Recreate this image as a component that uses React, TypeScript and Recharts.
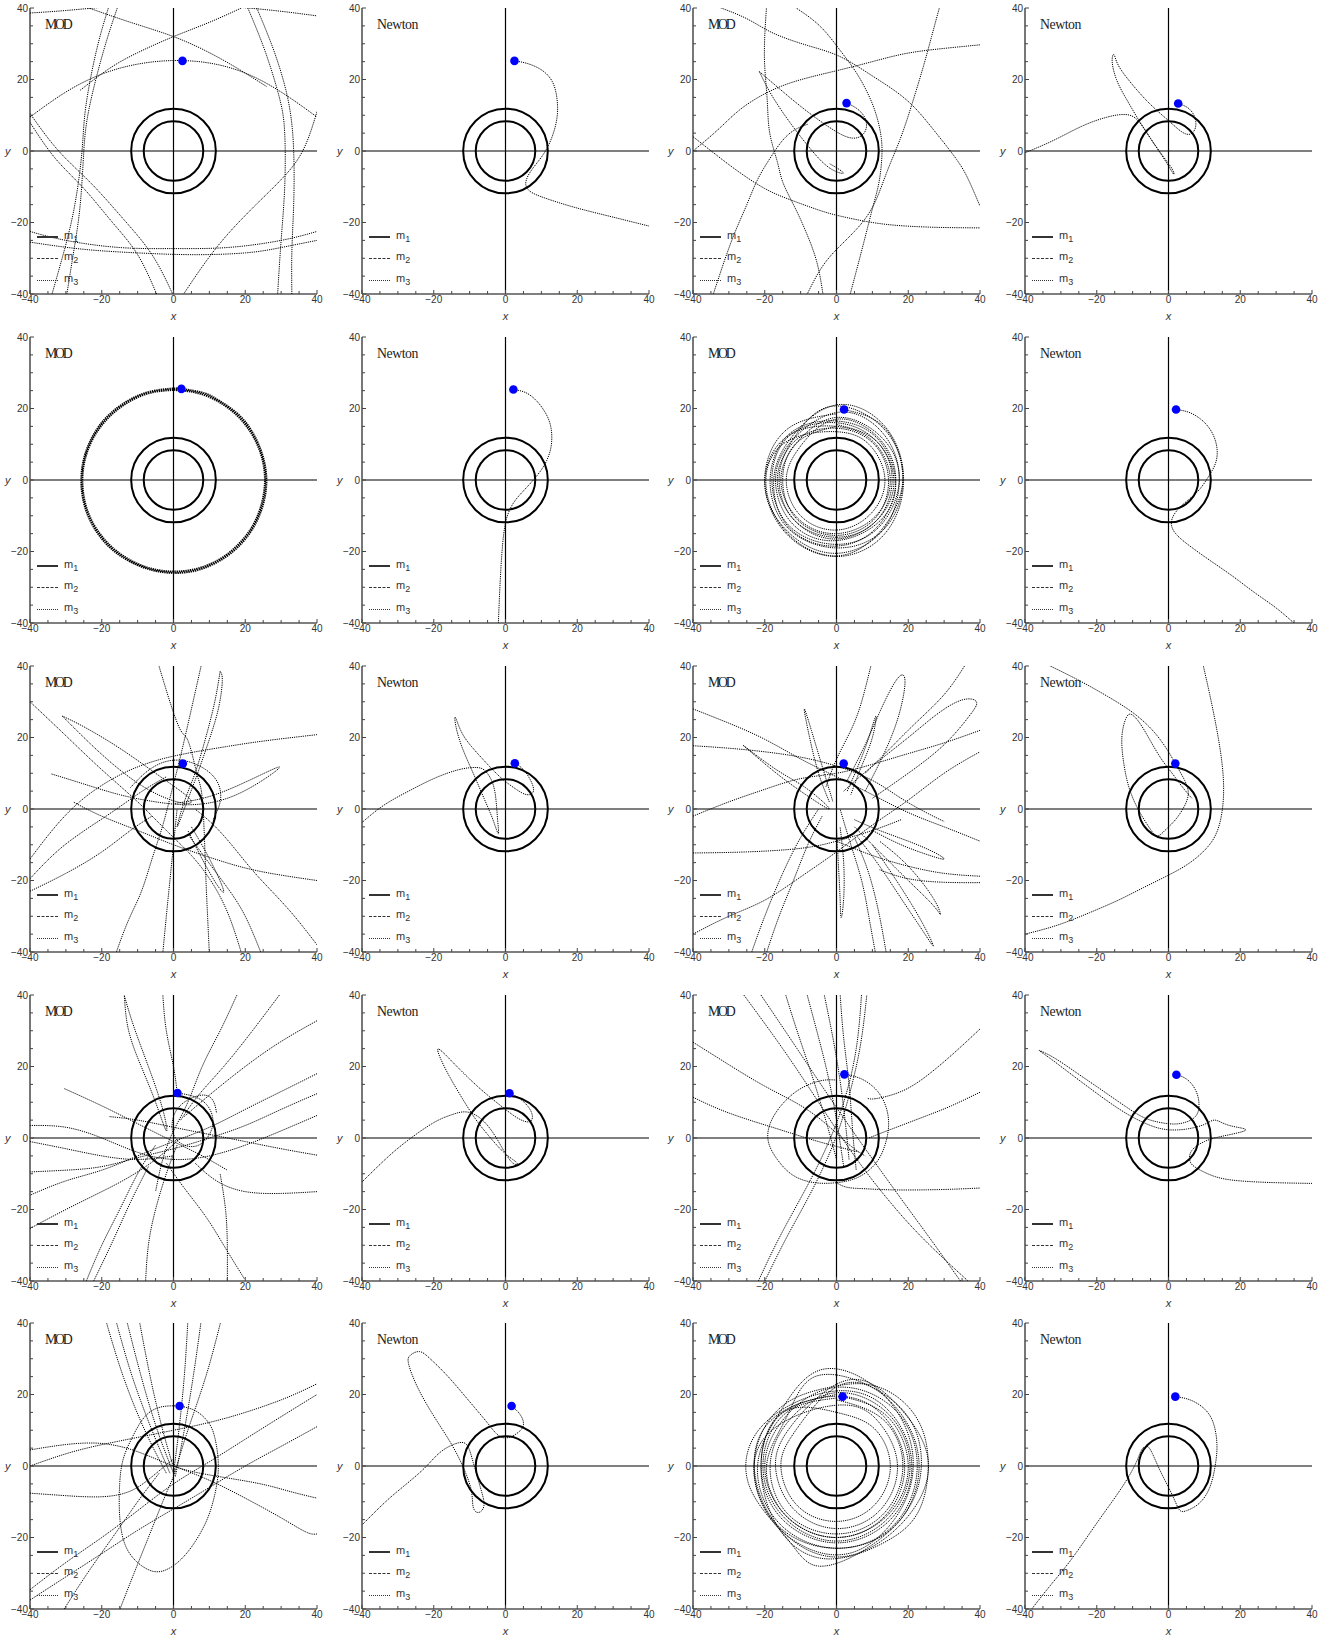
import React from "react";
import { ScatterChart, Scatter, XAxis, YAxis, ReferenceLine, ReferenceDot } from "recharts";

type Pt = [number, number];

// axis ticks (every 5 units, labels every 20)
const TICKS = [-40, -35, -30, -25, -20, -15, -10, -5, 0, 5, 10, 15, 20, 25, 30, 35, 40];
const LABELLED = [-40, -20, 0, 20, 40];

// orbits of the binary (m1 inner, m2 outer), radius in data units
const M1_RADIUS = 8.3;
const M2_RADIUS = 11.8;

// starting position of m3 per panel
const dot11: Pt = [2.5, 25.2];
const dot12: Pt = [2.5, 25.2];
const dot13: Pt = [2.8, 13.4];
const dot14: Pt = [2.7, 13.3];
const dot21: Pt = [2.2, 25.5];
const dot22: Pt = [2.2, 25.3];
const dot23: Pt = [2.1, 19.7];
const dot24: Pt = [2.1, 19.7];
const dot31: Pt = [2.6, 12.7];
const dot32: Pt = [2.6, 12.8];
const dot33: Pt = [2.0, 12.7];
const dot34: Pt = [1.9, 12.7];
const dot41: Pt = [1.1, 12.6];
const dot42: Pt = [1.1, 12.5];
const dot43: Pt = [2.2, 17.8];
const dot44: Pt = [2.2, 17.7];
const dot51: Pt = [1.7, 16.8];
const dot52: Pt = [1.7, 16.8];
const dot53: Pt = [1.7, 19.4];
const dot54: Pt = [1.9, 19.4];

// m3 trajectories
const path11: Pt[][] = [
  [[-40, 9.5], [-30, 16.5], [-20, 21.5], [-10, 24.3], [0, 25.3], [10, 24.6], [20, 21.8], [30, 16.5], [40, 9.5]],
  [[-40, -22.5], [-30, -25], [-15, -27], [0, -27.3], [15, -27], [30, -25], [40, -22.5]],
  [[-40, -25.5], [-25, -27.5], [-10, -28.5], [5, -29], [20, -28.5], [30, -27], [40, -25]],
  [[-18, 40.5], [-21.5, 28], [-24.5, 12], [-25.5, 0], [-27.5, -15], [-30.5, -28], [-34, -40.5]],
  [[-15.5, 40.5], [-19.5, 28], [-23.5, 12], [-25, 0], [-26, -15], [-27.8, -28], [-29.8, -40.5]],
  [[-40, 8], [-33, -2], [-25, -10.5], [-17, -20], [-10, -29], [-4.5, -40.5]],
  [[-40, 10.5], [-32, 0], [-23, -9], [-14, -19], [-6, -29], [0, -40.5]],
  [[20.5, 40.5], [25.5, 28], [29.5, 15], [31, 5], [31, -10], [30, -25], [29, -40.5]],
  [[23, 40.5], [28, 28], [32, 14], [33.5, 0], [33.5, -15], [33, -28], [33, -40.5]],
  [[40, 11], [36, 0], [30, -8], [22, -16], [12, -27], [2.5, -40.5]],
  [[-25, 40.5], [-12, 36], [0, 32], [10, 27.5], [18, 23], [26, 18]],
  [[20, 40.5], [10, 36], [0, 32], [-10, 27.5], [-18, 23], [-26, 17]],
  [[-40, 38.6], [-30, 39.3], [-20, 40.2], [-15, 40.5]],
  [[15, 40.5], [28, 39.3], [40, 37.8]],
];
const path12: Pt[][] = [
  [[2.5, 25.2], [6, 24.5], [10, 22.7], [13, 19.5], [14.3, 15], [14.4, 9.7], [13, 4], [10.5, -1], [7.5, -5], [5.7, -8.5], [6.5, -11], [10, -12.8], [16, -14.8], [22, -16.5], [30, -18.5], [40, -21]],
];
const path13: Pt[][] = [
  [[-40, 0], [-33, 6], [-27, 11.5], [-20, 16], [-13, 19], [-6, 21], [1, 22.7], [10, 25], [19.5, 27.3], [30, 28.7], [40, 29.7]],
  [[-40, 4], [-33, -1.5], [-27, -6], [-20, -10.5], [-13, -13.6], [-5, -16.5], [1, -18.2], [10, -20], [19.5, -21], [30, -21.4], [40, -21.5]],
  [[-19.5, 40.5], [-20, 32], [-20, 23.6], [-19.3, 14], [-18.6, 5], [-16.5, -3], [-14.9, -8.9], [-11.5, -16], [-8.4, -22.9], [-5.5, -31], [-3.7, -40.5]],
  [[-33.5, 40.5], [-25, 37], [-17.7, 33], [-8, 29.5], [1, 26.4], [10, 21], [19.5, 14.3], [27, 6], [33.5, -2.4], [37, -8.5], [40, -15.4]],
  [[-12, 40.5], [-7, 37], [-2.8, 33], [1.5, 27.5], [5.6, 21.8], [9, 15.5], [11.2, 9.7], [12.5, 3.5], [12.6, -2.4], [11.8, -9], [10.2, -15.4], [7.5, -26], [3.7, -40.5]],
  [[28.8, 40.5], [26.5, 32], [24.2, 23.6], [21, 13], [17.7, 3.2], [14, -6], [10.2, -15.4], [5, -22.5], [-0.9, -28.5], [-5, -34], [-8.4, -40.5]],
  [[-34.5, -40.5], [-31, -30], [-28, -22], [-25, -15], [-22, -8], [-18.5, -2], [-15, 3], [-11.5, 6], [-8, 7.5]],
  [[2.8, 13.4], [5.5, 12], [7.8, 9.5], [8.3, 6.5], [7, 4.3], [4.5, 3.6], [1, 4.8], [-4, 8], [-10, 12.5], [-16, 17.5], [-21.5, 22.2]],
  [[-21.5, 22.2], [-18, 15.5], [-13, 8], [-8, 1.5], [-3.5, -3.5], [0, -5.8], [1.9, -6.2], [0.5, -5], [-2, -3.5]],
];
const path14: Pt[][] = [
  [[2.7, 13.3], [5.5, 12], [7.3, 9.5], [7.5, 6.5], [6, 4.7], [3.5, 5.5], [0, 8.5], [-5, 13], [-10, 18.5], [-14, 24], [-15.2, 27], [-15.7, 25], [-14.5, 20], [-12, 15], [-8.5, 9], [-5, 3.5], [-1.5, -1.5], [1, -5], [1.5, -6.5], [0.5, -5], [-2, -1], [-5, 3.5], [-8.5, 8.5], [-12, 10.2], [-17, 9.5], [-24, 7], [-32, 3], [-40, -0.5]],
];
const path21: Pt[][] = [
  [[2.2, 25.5], [8.5, 24.3], [13, 22], [18.2, 18.2], [22.3, 12.8], [24.9, 6.6], [25.9, 0], [25, -6.7], [22.4, -13], [18.3, -18.4], [13, -22.5], [6.7, -25.2], [0, -26], [-6.7, -25], [-13, -22.3], [-18.3, -18.3], [-22.4, -12.9], [-24.9, -6.7], [-25.7, 0], [-24.8, 6.6], [-22.2, 12.8], [-18.1, 18.1], [-12.8, 22.1], [-6.6, 24.7], [0, 25.6], [2.2, 25.5]],
  [[0, 25.2], [6.5, 24.4], [12.6, 21.9], [17.9, 17.9], [22, 12.6], [24.6, 6.5], [25.5, 0], [24.6, -6.6], [22.1, -12.8], [18, -18.1], [12.8, -22.2], [6.6, -24.8], [0, -25.6], [-6.6, -24.7], [-12.8, -22], [-18, -18], [-22.1, -12.7], [-24.6, -6.6], [-25.4, 0], [-24.5, 6.5], [-21.9, 12.6], [-17.8, 17.8], [-12.6, 21.8], [-6.5, 24.4], [0, 25.2]],
];
const path22: Pt[][] = [
  [[2.2, 25.3], [5.5, 24.5], [8.5, 22.3], [11, 19], [12.6, 15], [12.8, 10], [11.5, 5.5], [9, 1.5], [5.5, -2.5], [2.5, -6], [0.7, -9.5], [-0.2, -13], [-0.8, -18], [-1.3, -25], [-1.7, -33], [-2, -40.5]],
];
const path23: Pt[][] = [
  [[2.1, 19.7], [13.5, 14.5], [18.5, 0], [13, -14], [0, -19], [-13.5, -13.5], [-18.5, 0], [-13, 13],
   [0, 16.5], [11.5, 11.5], [16.5, -1], [11.5, -12], [-1, -17], [-12.5, -12], [-17, 0], [-12, 11.5],
   [1, 19], [13, 13], [17.5, 0], [12.5, -14.5], [-1, -20.5], [-14, -14], [-20, -1], [-14, 12],
   [0, 15], [10.5, 10.5], [15, 0], [10.5, -10.5], [-0.5, -15], [-11, -10.5], [-15.5, 0], [-11, 10.5],
   [0, 17.5], [12.5, 12], [17.5, 0], [12, -13], [0, -18], [-13, -13], [-18, 0], [-13, 12.5],
   [0, 16], [11, 11], [16, 0], [11.5, -11], [0, -16.5], [-11.5, -11.5], [-16.5, 0], [-12, 11.5],
   [-2, 20.5], [12, 15.5], [18.5, 2], [14, -12], [2, -21], [-12, -16.5], [-19.5, -3], [-15, 10],
   [0, 13.5], [9.5, 9.5], [13.5, 0], [9.5, -9.5], [0, -14], [-10, -10], [-14, 0], [-10, 9.5],
   [0, 17], [12, 11.5], [16.5, -1], [11, -13.5], [-1, -18.5], [-13.5, -13], [-17.5, 0], [-12.5, 12],
   [0, 21], [13.5, 15], [18.7, 0], [13.5, -15], [0, -21.4], [-14, -15], [-20, 0], [-14, 14], [0, 18.5]],
  [[0, 15.5], [11, 11], [15.5, 0], [11, -11.5], [0, -16], [-11.5, -11.5], [-16, 0], [-11.5, 11],
   [0, 14.5], [10.5, 10], [14.5, -0.5], [10.5, -11], [0, -15.5], [-11, -11], [-15, 0], [-11, 10.5], [0, 15]],
];
const path24: Pt[][] = [
  [[2.1, 19.7], [5.5, 19], [9, 17], [12, 13.5], [13.5, 9], [13.2, 5], [11.5, 1.5], [8.5, -2.8], [5, -6], [2, -9], [0.8, -12], [2, -15], [6, -18.5], [12, -22.8], [18, -27], [24, -31.5], [30, -35.8], [35.5, -40.5]],
];
const path31: Pt[][] = [
  [[-40, 30], [-30, 20.5], [-20, 11], [-10, 2], [-2, -6], [5, -13], [11, -21], [15.5, -30], [19, -40.5]],
  [[-31, 26], [-25, 23], [-15, 17], [-5, 10], [2, 5], [5, 2], [1, 2], [-8, 6], [-18, 13.5], [-26, 21], [-31, 26]],
  [[-34, 9.8], [-25, 7], [-15, 4], [-5, 2], [5, 1.2], [15, 3], [24, 7.5], [29.5, 11.5], [27, 10.8], [20, 7.5], [10, 3.5], [0, 1.5]],
  [[-40, -14], [-33, -5], [-25, 3], [-15, 9.5], [-5, 13.5], [5, 15.8], [15, 17.5], [25, 19], [40, 20.8]],
  [[-40, -19.5], [-30.5, -10.2], [-18.5, -1.8], [-9, 4.8], [-2, 9]],
  [[-4.2, 40.5], [-1, 30], [2, 22], [4.2, 18.7], [6.5, 10], [7.8, 4.8], [8.5, -5], [9, -18.6], [9.5, -30], [10, -40.5]],
  [[7.8, 40.5], [5, 28], [1.8, 14.1], [-0.5, 5], [-3, -4.6], [-6, -14], [-9, -23.2], [-12.5, -31], [-16.1, -40.5]],
  [[13, 38.5], [11.5, 30], [9, 20], [6, 10], [3, 2], [1, -5], [3, 0], [6, 8], [9.5, 18], [12.5, 28], [13.6, 36], [13, 38.5]],
  [[-3, -40.5], [-2, -30], [-1, -20], [0, -10], [1, 0]],
  [[24.5, -40.5], [20, -30], [15, -22], [9, -13.9], [4, -7]],
  [[40, -38], [32, -28], [23.3, -18.6], [17, -11], [11.3, -4.6], [6, 0]],
  [[5, -5], [9, -12], [12.5, -19], [14, -23.2], [12, -21], [8, -14], [4, -6]],
  [[40, -20], [30, -18.5], [20, -16.5], [10, -13.5], [0, -10], [-10, -6], [-20, -2], [-28, 2]],
  [[-40, -23], [-30, -18], [-20, -12], [-12, -6], [-6, -2]],
  [[-12, 6], [-8, 10], [-3, 13], [3, 13.5], [9, 11], [12.5, 7], [13, 2], [11, -3]],
];
const path32: Pt[][] = [
  [[2.6, 12.9], [5, 11], [7, 8], [7.8, 5], [6, 4], [3, 5.5], [-1, 8.5], [-5, 12.5], [-9.5, 17.5], [-12.5, 22], [-14, 25.7], [-13.8, 23], [-12, 17], [-9, 10], [-6, 3], [-3.5, -3], [-2, -6.9], [-2.2, -3], [-2.6, 2], [-3.5, 7], [-5.5, 10.5], [-8, 11.6], [-13, 11], [-20, 8.5], [-27, 5], [-34, 1], [-40, -3.8]],
];
const path33: Pt[][] = [
  [[-40, 28], [-30, 24], [-20, 19.5], [-10, 14], [0, 9], [10, 4], [20, -1], [30, -5], [40, -9]],
  [[-40, 17.7], [-30, 17], [-20, 16], [-10, 14.5], [0, 12], [10, 8], [18, 3], [25, -1], [30, -3.5]],
  [[-40, -2], [-30, 2], [-20, 5.5], [-10, 8.5], [0, 10], [10, 12.5], [20, 15.5], [30, 18.5], [40, 22]],
  [[-40, -12.3], [-25, -12], [-10, -11], [0, -9], [10, -6], [18, -3]],
  [[-40, -35], [-30, -30], [-20, -25.5], [-10, -19], [0, -12], [10, -4.5], [20, 2.5], [30, 10], [40, 16]],
  [[2, 5], [10, 12], [20, 20], [28, 26.5], [35, 30.5], [39, 30], [37, 26], [30, 18], [20, 10], [10, 3]],
  [[3, 8], [8, 18], [12, 27], [16, 35], [18.5, 37.5], [19, 34], [17, 25], [13, 15], [8, 5]],
  [[3, 5], [6, 12], [9, 20], [11, 26], [10, 20], [7, 12], [4, 4]],
  [[-2, 2], [-5, 10], [-7.5, 20], [-9, 28], [-7, 22], [-4, 12], [-1, 2]],
  [[-26, 17.8], [-18, 11], [-10, 5], [-2, 0], [-8, 5.5], [-16, 10.5], [-26, 17.8]],
  [[5, -3], [12, -6], [20, -9], [27, -12], [30, -14], [26, -13], [18, -10], [10, -6]],
  [[5, -5], [12, -12], [20, -20], [27, -27], [29, -29.5], [27, -25], [20, -16], [12, -9]],
  [[6, -8], [12, -16], [18, -25], [24, -34], [27, -38.3], [24, -32], [18, -22], [10, -10]],
  [[0, -5], [0.5, -15], [1, -25], [1.3, -30.4], [2, -25], [2, -15], [1, -5]],
  [[40, -18.8], [30, -18], [20, -16], [10, -13], [0, -9]],
  [[40, -20.6], [30, -20.5], [20, -19.5], [12, -17]],
  [[-23.8, -40.5], [-20, -30], [-15, -18], [-10, -8], [-5, 0]],
  [[-19.6, -40.5], [-16, -30], [-12, -20], [-8, -10], [-4, -2]],
  [[10.9, -40.5], [9, -30], [7, -20], [4, -10], [1, 0]],
  [[13.9, -40.5], [12, -30], [9, -18], [5, -8]],
  [[36, 40.5], [30, 32], [22, 24], [15, 17], [8, 10]],
  [[9.7, 40.5], [7, 30], [4, 22], [0, 13.9], [-3, 6]],
];
const path34: Pt[][] = [
  [[-34, 40.5], [-25, 36], [-17, 31.5], [-10, 27], [-4, 21.5], [0, 16], [1.9, 12.7], [4.5, 8], [5.5, 4], [4, 0], [1.5, -3.5], [-1, -6], [-3.2, -7.5], [-5.5, -5], [-8.5, 0], [-11, 6], [-12.5, 13], [-13, 20], [-12, 25], [-10.5, 26.5], [-8, 24], [-5, 19], [-2, 14], [1, 10], [4, 6], [6.5, 3]],
  [[9.6, 40.5], [11.5, 32], [13.5, 22], [15, 12], [15.3, 3], [14, -5], [11, -10.5], [6, -15], [0, -18.5], [-7, -22], [-14, -25.5], [-22, -29], [-31, -32.5], [-40, -35]],
];
const path41: Pt[][] = [
  [[-13.7, 39.8], [-12.5, 30], [-9, 20], [-5, 10], [-2, 2], [-3, 8], [-7, 20], [-11, 31], [-13.7, 39.8]],
  [[-3, 40.5], [-2, 30], [0, 20], [1, 12.6]],
  [[17.9, 40.5], [13, 30], [8, 20], [4, 10], [0, 2], [-3, -6], [-5, -15]],
  [[29.9, 40.5], [22, 30], [14, 20], [7, 12], [2, 5]],
  [[40, 32.8], [30, 27], [20, 20], [10, 12], [3, 6]],
  [[40, 18], [30, 13], [20, 8], [10, 3], [0, -1], [-10, -5], [-20, -9], [-30, -12], [-40, -16]],
  [[40, 12.4], [30, 8], [20, 3.5], [10, 0], [0, -3], [-10, -5.5], [-20, -8], [-30, -9], [-40, -9.5]],
  [[40, 6.3], [30, 2], [20, -2], [10, -5], [0, -6], [-10, -4], [-20, 0], [-30, 3], [-40, 3.5]],
  [[-30.4, 13.8], [-20, 9], [-10, 4], [0, -1], [8, -5], [15, -9]],
  [[-40, -25.3], [-30, -20], [-20, -15], [-12.5, -11], [-5, -6], [2, 0]],
  [[40, -4.8], [30, -3], [20, -1], [10, 1], [0, 3], [-10, 5], [-18, 6]],
  [[40, -15], [30, -15.5], [20, -15], [12, -12], [6, -7]],
  [[19.7, -39.3], [14, -30], [9, -22], [3, -14], [-2, -7]],
  [[15, -40.5], [15, -30], [14.5, -20], [13, -10]],
  [[-7.8, -40.5], [-7, -30], [-5, -20], [-2, -10], [1, -2]],
  [[-24.5, -40.5], [-20, -30], [-15, -20], [-10, -10], [-5, -2]],
  [[-22.5, -40.5], [-17, -29], [-12, -18], [-7, -8]],
  [[-40, -1], [-30, -3], [-20, -5], [-10, -6], [0, -5]],
  [[1.1, 12.6], [6, 11.5], [9.5, 9], [11, 5], [10, 1], [7, -2], [3, -2], [0, 1], [0, 6], [3, 10], [8, 12], [11, 10.5], [12, 7]],
];
const path42: Pt[][] = [
  [[1.1, 12.5], [4, 11], [6.5, 8.5], [7.5, 6], [6.5, 4.5], [3.5, 5.5], [0, 8], [-5, 12], [-10, 16.5], [-15, 21.5], [-18.7, 24.9], [-18, 22], [-15.5, 17], [-12, 11], [-8.5, 5.5], [-5, 1], [-1, -3.5], [2, -6], [3.3, -7.2], [2, -7], [-0.5, -3.5], [-3.5, 1.5], [-7, 5.5], [-11, 7.3], [-15, 6.5], [-20, 4.3], [-27, -0.5], [-33, -5.5], [-40, -12.3]],
];
const path43: Pt[][] = [
  [[-26.2, 40.5], [-15, 25], [-5, 10], [5, -5], [15, -18], [25, -29], [37.2, -40.5]],
  [[-21.4, 40.5], [-11, 25], [-1, 10], [8, -3], [18, -17], [26, -28], [34.9, -40.5]],
  [[-14.3, 40.5], [-11, 30], [-7, 18], [-3, 5], [0, -6]],
  [[-8.3, 40.5], [-5.5, 30], [-2.5, 18], [0, 5], [2, -8]],
  [[-3.5, 40.5], [-1, 28], [1, 16], [2.5, 4], [3.5, -6]],
  [[1, 40.5], [2, 28], [3.5, 15], [4.5, 2], [5.5, -9]],
  [[-22, -40.5], [-16, -28], [-9, -15], [-3, -3], [2, 10], [5.5, 25], [7, 40.5]],
  [[-20.2, -40.5], [-14, -28], [-7, -15], [-1, -2], [3, 10], [6.5, 25], [8.5, 40.5]],
  [[-40, 26.8], [-30, 20.5], [-20, 14.5], [-10.7, 9.5], [-3, 4], [3.7, -2], [8, -5]],
  [[-40, 11.4], [-30, 7], [-16.6, 2.6], [-5, -1], [6.1, -3.9]],
  [[40, 30.5], [33, 24], [25.3, 17.5], [18, 13], [10.9, 11], [8.5, 11.2]],
  [[40, 12.8], [32, 9], [25.3, 6.3], [18, 3.5], [13.3, 1.7], [9, 0]],
  [[2.2, 17.8], [7, 16.5], [11.5, 13], [14, 8], [14.5, 3], [13.5, -2], [11, -7], [6, -11], [0, -12.5], [-6, -12.5], [-12, -10.5], [-16.5, -6], [-19, -1], [-18.5, 4], [-15.5, 9], [-10.5, 13.5], [-4.5, 16], [0, 16.2]],
  [[0, -12.5], [3, -13.8], [8, -14.2], [15, -14.5], [25, -14.5], [33, -14.3], [40, -14]],
];
const path44: Pt[][] = [
  [[2.2, 17.7], [5, 16.5], [7.5, 13.5], [8.5, 9.5], [7.5, 6], [4, 4.2], [0, 4], [-5, 5], [-10, 7.5], [-18, 13], [-26, 18.5], [-32, 22.5], [-36, 24.5], [-34, 23], [-28, 18.5], [-20, 12.5], [-12, 7], [-5, 3.5], [0, 2.3], [5, 2.5], [10, 3.8], [13, 5], [17, 3.5], [21.5, 2.2], [15, 0.5], [10, -1], [6.5, -3.5], [6, -6.5], [8, -8.5], [13, -10.8], [20, -12], [30, -12.5], [40, -12.7]],
];
const path51: Pt[][] = [
  [[-18.8, 40.5], [-14, 25], [-8, 10], [-2, -2]],
  [[-16, 40.5], [-11.5, 25], [-6, 10], [-1, -2]],
  [[-13, 40.5], [-9, 25], [-4.5, 10], [0, -2]],
  [[-9.5, 40.5], [-6.5, 25], [-3, 10], [0.5, -2]],
  [[4, 40.5], [3, 25], [1.5, 10], [0, -2]],
  [[7.7, 40.5], [5.5, 25], [3, 10], [0.5, -3]],
  [[13.2, 40.5], [9, 25], [4, 10], [0, -3]],
  [[1.7, 16.8], [6, 15.5], [9.5, 12.5], [11.5, 8], [12.5, 0], [11.5, -8], [8.9, -16], [4, -24], [-1, -28.5], [-5.5, -29.5], [-10, -27], [-13.5, -22], [-15, -14], [-15, -5], [-14, 2], [-11.5, 8], [-8, 13.8], [-3.5, 16.5], [1.7, 16.8]],
  [[-40, 4.5], [-30, 6], [-20, 6.3], [-10, 4], [0, 0], [10, -2.5], [23.3, -4.8], [32, -7], [40, -9]],
  [[-40, -7.6], [-30, -8.3], [-20, -8.6], [-12, -7], [-6, -3], [0, 2]],
  [[-40, -34.6], [-30, -27], [-20, -20], [-10, -12.5], [0, -5], [10, 1.2], [20, 7.5], [30, 13.8], [40, 20]],
  [[-40, -37.5], [-30, -31], [-20, -24.5], [-10, -18], [0, -12], [10, -6], [20, 0], [30, 5.5], [40, 11]],
  [[-30.8, -40.5], [-24, -30], [-17, -20], [-10, -10], [-4, -2]],
  [[-15.1, -40.5], [-11, -30], [-7, -20], [-3, -10], [0, -3]],
  [[-40, 0], [-28, 4], [-15, 7], [0, 10], [15, 13.5], [30, 18.5], [40, 23]],
  [[0, 0], [10, -4], [20, -9], [30, -14.5], [37, -18.5], [40, -19]],
];
const path52: Pt[][] = [
  [[1.7, 16.8], [4, 14.5], [5, 11.5], [3, 9], [-1, 8], [-5, 12], [-10, 18], [-16, 25], [-21, 30], [-24, 32], [-26.5, 31], [-27, 28.5], [-24.5, 22], [-20, 14], [-15, 6], [-11.5, -1], [-9.5, -7], [-9, -11.5], [-7.5, -13], [-6, -11], [-7, -6], [-9, 1], [-10.5, 5.5], [-13, 6.5], [-18, 4], [-23, -1], [-30, -7], [-35, -11.5], [-40, -16.5]],
];
const path53: Pt[][] = [
  [[1.7, 19.4], [14, 14], [20, 0], [14, -14], [0, -20], [-14, -14], [-20, 0], [-14, 14],
   [0, 22], [16, 16], [22.5, 0], [16, -16.5], [0, -23], [-16, -16], [-22, 0], [-15.5, 15.5],
   [-4, 27], [12, 21], [21, 5], [18, -12], [5, -24], [-10, -22], [-21, -10], [-20, 8],
   [0, 17], [12, 12], [17, 0], [12, -12.5], [0, -17.5], [-12, -12], [-17, 0], [-12, 12],
   [3, 24], [17, 17], [25.5, 2], [20, -14], [4, -25], [-12, -21], [-22, -6], [-19, 12],
   [0, 19.5], [13.5, 13.5], [19, 0], [13.5, -14], [0, -20], [-14, -14], [-19.5, 0], [-14, 13.5],
   [-6, 25], [10, 22], [22, 10], [22, -8], [10, -22], [-5, -28], [-14, -20], [-24.5, -5], [-20, 12],
   [0, 21], [15, 15], [21, 0], [15, -15], [0, -21.5], [-15, -15], [-21, 0], [-15, 15],
   [0, 15], [10.5, 10.5], [15, 0], [10.5, -11], [0, -15.5], [-11, -11], [-15.5, 0], [-11, 10.5],
   [2, 23], [16, 17], [23, 1], [17, -16], [1, -23], [-16, -17], [-23, 0], [-16, 16],
   [-2, 22], [12, 22], [24, 10], [24, -10], [14, -21], [-2, -26], [-15, -19], [-21, -2], [-16, 14], [0, 20]],
  [[0, 18.5], [13, 13], [18.5, 0], [13, -13.5], [0, -19], [-13.5, -13.5], [-18.5, 0], [-13, 13],
   [0, 20.5], [14.5, 14.5], [20.5, 0], [14.5, -14.5], [0, -21], [-14.5, -14.5], [-20.5, 0], [-14.5, 14.5], [0, 19]],
];
const path54: Pt[][] = [
  [[1.9, 19.4], [6, 18.5], [10, 16], [12.5, 12], [13.5, 6], [13, 0], [11.5, -6], [8.5, -10.5], [5, -12.5], [3, -12.2], [1, -8], [-2, -2], [-4.5, 3.5], [-6, 5.5], [-7.5, 4.5], [-9, 1], [-13, -6], [-20, -16], [-27, -26], [-33, -33.5], [-38.5, -40.5]],
];

const panels = [
  { title: "MOD", dot: dot11, paths: path11 },
  { title: "Newton", dot: dot12, paths: path12 },
  { title: "MOD", dot: dot13, paths: path13 },
  { title: "Newton", dot: dot14, paths: path14 },
  { title: "MOD", dot: dot21, paths: path21, heavy: true },
  { title: "Newton", dot: dot22, paths: path22 },
  { title: "MOD", dot: dot23, paths: path23 },
  { title: "Newton", dot: dot24, paths: path24 },
  { title: "MOD", dot: dot31, paths: path31 },
  { title: "Newton", dot: dot32, paths: path32 },
  { title: "MOD", dot: dot33, paths: path33 },
  { title: "Newton", dot: dot34, paths: path34 },
  { title: "MOD", dot: dot41, paths: path41 },
  { title: "Newton", dot: dot42, paths: path42 },
  { title: "MOD", dot: dot43, paths: path43 },
  { title: "Newton", dot: dot44, paths: path44 },
  { title: "MOD", dot: dot51, paths: path51 },
  { title: "Newton", dot: dot52, paths: path52 },
  { title: "MOD", dot: dot53, paths: path53 },
  { title: "Newton", dot: dot54, paths: path54 },
];

const W = 331;
const H = 329;
const PLOT_W = 287;
const PX_PER_UNIT = PLOT_W / 80;
const COL_X = [0, 332, 663, 995];
const ROW_Y = [0, 329, 658, 987, 1315];
const INK = "#000";
const FRAME = "#555";
const SANS = "'Liberation Sans', Arial, sans-serif";

const fmt = (v: number) => (v < 0 ? "\u2212" + Math.abs(v) : String(v));
const toPts = (p: Pt[]) => p.map(([x, y]) => ({ x, y }));
const noShape = () => <g />;

const BottomTick = (props: any) => {
  const { x, y, payload } = props;
  const major = LABELLED.includes(payload.value);
  return (
    <g>
      <line x1={x} y1={y} x2={x} y2={y - (major ? 4 : 3)} stroke="#444" />
      {major && (
        <text x={x} y={y + 2} dy="0.71em" textAnchor="middle" fontSize={10} fill="#333" fontFamily={SANS}>
          {fmt(payload.value)}
        </text>
      )}
    </g>
  );
};
const LeftTick = (props: any) => {
  const { x, y, payload } = props;
  const major = LABELLED.includes(payload.value);
  return (
    <g>
      <line x1={x} y1={y} x2={x + (major ? 4 : 3)} y2={y} stroke="#444" />
      {major && (
        <text x={x - 2} y={y} dy="0.35em" textAnchor="end" fontSize={10} fill="#333" fontFamily={SANS}>
          {fmt(payload.value)}
        </text>
      )}
    </g>
  );
};
const TopTick = (props: any) => <line x1={props.x} y1={props.y} x2={props.x} y2={props.y + 3} stroke="#444" />;
const RightTick = (props: any) => <line x1={props.x} y1={props.y} x2={props.x - 3} y2={props.y} stroke="#444" />;
const BlueDot = (props: any) => <circle cx={props.cx} cy={props.cy} r={4.3} fill="#0000ff" />;

const LegendRow = ({ dash, idx, top }: { dash: string; idx: number; top: number }) => (
  <div style={{ position: "absolute", left: 37, top, height: 12, display: "flex", alignItems: "center" }}>
    <span style={{ display: "inline-block", width: 21, borderTop: `${idx === 1 ? 2 : 1}px ${dash} #333` }} />
    <span style={{ marginLeft: 6, fontSize: 11, color: "#333", fontFamily: SANS, lineHeight: "12px" }}>
      m<sub style={{ fontSize: 9 }}>{idx}</sub>
    </span>
  </div>
);

const Panel = ({ cfg, left, top }: any) => (
  <div style={{ position: "absolute", left, top, width: W, height: H }}>
    <ScatterChart width={W} height={H} margin={{ top: 8, right: 14, bottom: 0, left: 0 }}>
      <XAxis
        dataKey="x"
        type="number"
        domain={[-40, 40]}
        ticks={TICKS}
        interval={0}
        allowDataOverflow
        height={35}
        tickSize={0}
        tickMargin={0}
        tickLine={false}
        tick={BottomTick}
        axisLine={{ stroke: FRAME, strokeWidth: 1.6 }}
        label={{ value: "x", position: "insideBottom", offset: 9, style: { fontStyle: "italic", fontSize: 11, fill: "#333", fontFamily: SANS } }}
      />
      <XAxis
        xAxisId="top"
        orientation="top"
        type="number"
        domain={[-40, 40]}
        ticks={TICKS}
        interval={0}
        allowDataOverflow
        height={0}
        tickSize={0}
        tickMargin={0}
        tickLine={false}
        tick={TopTick}
        axisLine={{ stroke: FRAME, strokeWidth: 1.6 }}
      />
      <YAxis
        dataKey="y"
        type="number"
        domain={[-40, 40]}
        ticks={TICKS}
        interval={0}
        allowDataOverflow
        width={30}
        tickSize={0}
        tickMargin={0}
        tickLine={false}
        tick={LeftTick}
        axisLine={{ stroke: FRAME, strokeWidth: 1.6 }}
        label={{ value: "y", position: "insideLeft", offset: 5, style: { fontStyle: "italic", fontSize: 11, fill: "#333", fontFamily: SANS } }}
      />
      <YAxis
        yAxisId="right"
        orientation="right"
        type="number"
        domain={[-40, 40]}
        ticks={TICKS}
        interval={0}
        allowDataOverflow
        width={0}
        tickSize={0}
        tickMargin={0}
        tickLine={false}
        tick={RightTick}
        axisLine={{ stroke: FRAME, strokeWidth: 1.6 }}
      />
      <ReferenceLine x={0} stroke="#000" strokeWidth={1.2} />
      <ReferenceLine y={0} stroke="#000" strokeWidth={1.2} />
      {cfg.paths.map((p: Pt[], i: number) => (
        <Scatter
          key={i}
          data={toPts(p)}
          fill="none"
          shape={noShape}
          line={{ stroke: INK, strokeWidth: cfg.heavy ? 2 : 1, strokeDasharray: cfg.heavy ? "1.4 0.8" : "1.2 1" }}
          lineJointType="natural"
          legendType="none"
          isAnimationActive={false}
        />
      ))}
      <ReferenceDot x={0} y={0} r={M1_RADIUS * PX_PER_UNIT} fill="none" stroke="#000" strokeWidth={2} />
      <ReferenceDot x={0} y={0} r={M2_RADIUS * PX_PER_UNIT} fill="none" stroke="#000" strokeWidth={2} />
      <Scatter data={[{ x: cfg.dot[0], y: cfg.dot[1] }]} shape={BlueDot} fill="#0000ff" isAnimationActive={false} />
    </ScatterChart>
    <div
      style={{
        position: "absolute",
        left: 45,
        top: 16,
        fontFamily: "'Liberation Serif', serif",
        fontSize: 15,
        lineHeight: "16px",
        color: "#222",
        letterSpacing: cfg.title === "MOD" ? -2.5 : -0.5,
        transform: "scaleX(0.92)",
        transformOrigin: "left",
      }}
    >
      {cfg.title}
    </div>
    <LegendRow dash="solid" idx={1} top={231} />
    <LegendRow dash="dashed" idx={2} top={252} />
    <LegendRow dash="dotted" idx={3} top={274} />
  </div>
);

export default function App() {
  return (
    <div style={{ position: "absolute", left: 0, top: 0, width: 1341, height: 1637, background: "#fff" }}>
      {panels.map((cfg, i) => (
        <Panel key={i} cfg={cfg} left={COL_X[i % 4]} top={ROW_Y[Math.floor(i / 4)]} />
      ))}
    </div>
  );
}
